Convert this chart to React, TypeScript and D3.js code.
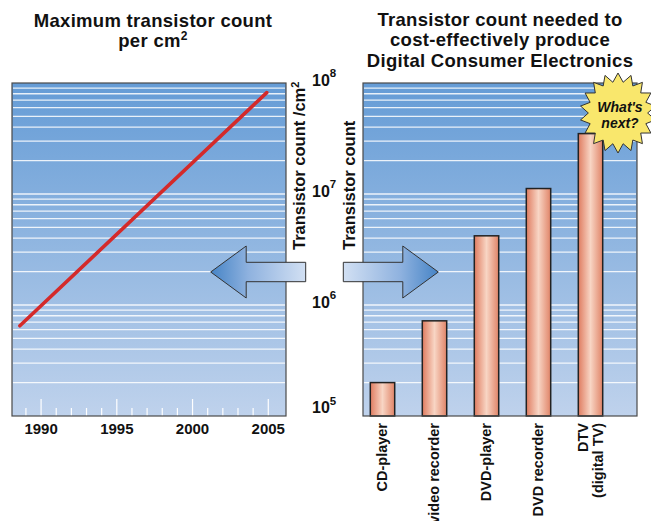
import React from "react";
import * as d3 from "d3";

// ---- data ----
const lineYears = [1988.6, 2004.9];
const lineCounts = [6.5e5, 8.2e7];
const yearTicks = [1990, 1995, 2000, 2005];
const minorYears = d3.range(1989, 2006);
const categories = ["CD-player", "video recorder", "DVD-player", "DVD recorder", "DTV"];
const categoryLabels = [["CD-player"], ["video recorder"], ["DVD-player"], ["DVD recorder"], ["DTV", "(digital TV)"]];
const barCounts = [2.0e5, 7.2e5, 4.2e6, 1.12e7, 3.5e7];
const yTickExps = [5, 6, 7, 8];
const leftTitle = ["Maximum transistor count", "per cm"];
const rightTitle = ["Transistor count needed to", "cost-effectively produce", "Digital Consumer Electronics"];

const FONT = "'Liberation Sans', Arial, Helvetica, sans-serif";

// ---- layout ----
const W = 651, H = 521;
const top = 83, bottom = 416;
const L = { x0: 12, x1: 286 };
const R = { x0: 363, x1: 637 };

const y = d3.scaleLog().domain([1e5, 1e8]).range([bottom, top]);
const xYear = d3.scaleLinear().domain([1988.08, 2006.17]).range([L.x0, L.x1]);
const xCat = d3.scalePoint<string>().domain(categories).range([382.5, 590.5]);
const barW = 24.4;

const gridVals: number[] = [];
for (let e = 5; e < 8; e++) for (let m = 1; m <= 9; m++) if (!(e === 5 && m === 1)) gridVals.push(m * Math.pow(10, e));

const line = d3.line<number>().x((_, i) => xYear(lineYears[i])).y((_, i) => y(lineCounts[i]));

function Panel({ x0, x1 }: { x0: number; x1: number }) {
  return (
    <g>
      <rect x={x0} y={top} width={x1 - x0} height={bottom - top} fill="url(#bgGrad)" />
      {gridVals.map((v) => (
        <line key={v} x1={x0 + 1} x2={x1 - 1} y1={y(v)} y2={y(v)} stroke="#ffffff" strokeOpacity={0.85} strokeWidth={1.3} />
      ))}
    </g>
  );
}

function arrowPath(tipX: number, dir: number) {
  const cy = 272;
  const headLen = 35.5, headH = 26, shaftH = 9.7, shaftLen = 59.5;
  const hb = tipX - dir * headLen;
  const se = hb - dir * shaftLen;
  return `M${tipX},${cy} L${hb},${cy - headH} L${hb},${cy - shaftH} L${se},${cy - shaftH} L${se},${cy + shaftH} L${hb},${cy + shaftH} L${hb},${cy + headH} Z`;
}

function starPath(cx: number, cy: number, rx: number, ry: number, inner: number, n: number) {
  const pts: string[] = [];
  for (let i = 0; i < n * 2; i++) {
    const a = (Math.PI * i) / n - Math.PI / 2;
    const r = i % 2 === 0 ? 1 : inner;
    pts.push(`${cx + Math.cos(a) * rx * r},${cy + Math.sin(a) * ry * r}`);
  }
  return "M" + pts.join("L") + "Z";
}

export default function App() {
  return (
    <svg width={W} height={H} style={{ position: "absolute", left: 0, top: 0, background: "#fff" }} fontFamily={FONT}>
      <defs>
        <linearGradient id="bgGrad" x1="0" y1="0" x2="0" y2="1">
          <stop offset="0" stopColor="#659cd6" />
          <stop offset="1" stopColor="#bfd2ec" />
        </linearGradient>
        <linearGradient id="barGrad" x1="0" y1="0" x2="1" y2="0">
          <stop offset="0" stopColor="#df7c60" />
          <stop offset="0.5" stopColor="#f8d5c4" />
          <stop offset="1" stopColor="#e08468" />
        </linearGradient>
        <linearGradient id="arrowL" x1="0" y1="0" x2="1" y2="0">
          <stop offset="0" stopColor="#4684c6" />
          <stop offset="0.4" stopColor="#8fb2df" />
          <stop offset="1" stopColor="#d2e0f3" />
        </linearGradient>
        <linearGradient id="arrowR" x1="1" y1="0" x2="0" y2="0">
          <stop offset="0" stopColor="#4684c6" />
          <stop offset="0.4" stopColor="#8fb2df" />
          <stop offset="1" stopColor="#d2e0f3" />
        </linearGradient>
      </defs>

      {/* titles */}
      <text x={153} y={26.7} textAnchor="middle" fontWeight="bold" fontSize={18.5} letterSpacing={0.3} fill="#111">{leftTitle[0]}</text>
      <text x={153} y={46.7} textAnchor="middle" fontWeight="bold" fontSize={18.5} letterSpacing={0.3} fill="#111">
        {leftTitle[1]}
        <tspan dy={-7} fontSize={12}>2</tspan>
      </text>
      {rightTitle.map((t, i) => (
        <text key={t} x={500} y={26 + i * 20.3} textAnchor="middle" fontWeight="bold" fontSize={18.5} letterSpacing={0.3} fill="#111">{t}</text>
      ))}

      {/* left panel */}
      <Panel x0={L.x0} x1={L.x1} />
      {minorYears.map((yr) => (
        <line key={yr} x1={xYear(yr)} x2={xYear(yr)} y1={bottom} y2={bottom - (yr % 5 === 0 ? 17 : 8)} stroke="#ffffff" strokeWidth={1.2} />
      ))}
      <path d={line(lineYears) || ""} fill="none" stroke="#d42a2a" strokeWidth={3.6} strokeLinecap="round" />
      <rect x={L.x0} y={top} width={L.x1 - L.x0} height={bottom - top} fill="none" stroke="#4a4a4a" strokeWidth={1.2} />
      {yearTicks.map((yr) => (
        <text key={yr} x={xYear(yr)} y={433.5} textAnchor="middle" fontWeight="bold" fontSize={15} fill="#111">{yr}</text>
      ))}

      {/* right panel */}
      <Panel x0={R.x0} x1={R.x1} />
      {categories.map((c, i) => (
        <rect key={c} x={(xCat(c) as number) - barW / 2} y={y(barCounts[i])} width={barW} height={bottom - y(barCounts[i])}
          fill="url(#barGrad)" stroke="#222" strokeWidth={1.5} />
      ))}
      <rect x={R.x0} y={top} width={R.x1 - R.x0} height={bottom - top} fill="none" stroke="#4a4a4a" strokeWidth={1.2} />
      {categoryLabels.map((lines, i) => {
        const cx = xCat(categories[i]) as number;
        const n = lines.length;
        return (
          <g key={i} transform={`translate(${cx},423) rotate(-90)`}>
            {lines.map((t, j) => (
              <text key={j} x={0} y={4.5 - ((n - 1) * 15) / 2 + j * 15} textAnchor="end" fontWeight="bold" fontSize={14.5} fill="#111">{t}</text>
            ))}
          </g>
        );
      })}

      {/* y axis labels in the middle */}
      {yTickExps.map((e) => (
        <text key={e} x={312} y={Math.min(y(Math.pow(10, e)) + 2.5, 413)} fontWeight="bold" fontSize={16} fill="#111">
          10<tspan dy={-8.5} fontSize={11.5}>{e}</tspan>
        </text>
      ))}
      <text transform="translate(305,250) rotate(-90)" fontWeight="bold" fontSize={16.5} fill="#111">
        Transistor count /cm<tspan dy={-6} fontSize={11}>2</tspan>
      </text>
      <text transform="translate(355,250) rotate(-90)" fontWeight="bold" fontSize={16.5} fill="#111">Transistor count</text>

      {/* arrows */}
      <path d={arrowPath(210.7, -1)} fill="url(#arrowL)" stroke="#333" strokeWidth={1} />
      <path d={arrowPath(438.3, 1)} fill="url(#arrowR)" stroke="#333" strokeWidth={1} />

      {/* starburst */}
      <path d={starPath(618, 113, 38, 40, 0.78, 18)} fill="#f9e76c" stroke="#333" strokeWidth={1} />
      <text x={620} y={111.5} textAnchor="middle" fontWeight="bold" fontStyle="italic" fontSize={14} fill="#111">What's</text>
      <text x={620} y={127.5} textAnchor="middle" fontWeight="bold" fontStyle="italic" fontSize={14} fill="#111">next?</text>
    </svg>
  );
}
